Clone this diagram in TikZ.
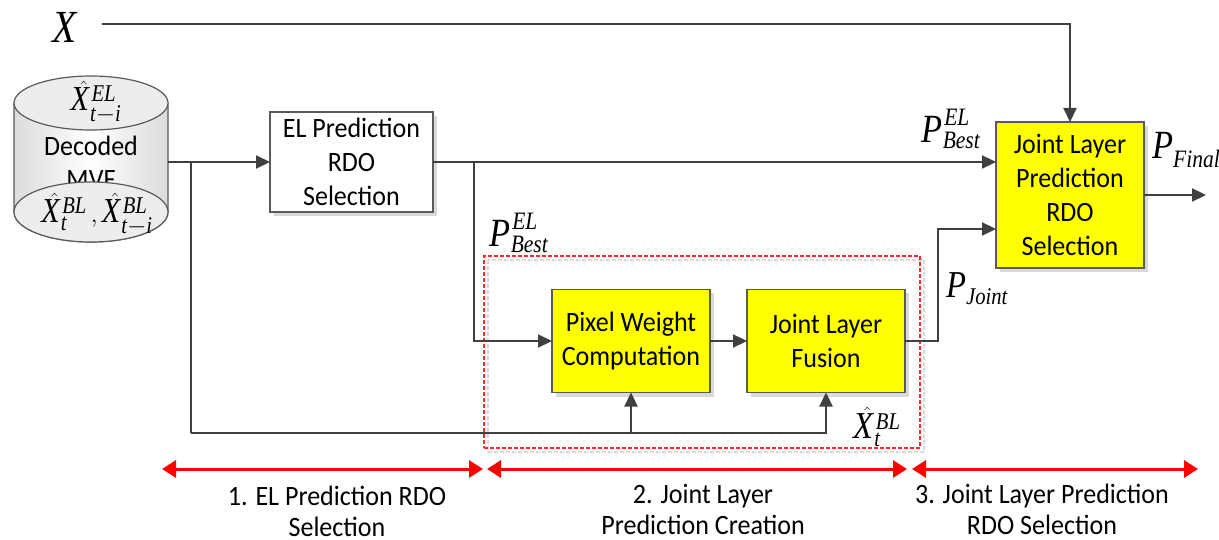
\documentclass[tikz,border=0pt]{standalone}
\usepackage{amsmath}
\usepackage{fontspec}
\setmainfont{Carlito}[FakeStretch=0.93]
\newfontfamily\tms{Liberation Serif}[FakeStretch=0.86]
\usetikzlibrary{arrows.meta,shadows}
\DeclareMathSizes{46}{46}{28}{20}
\DeclareMathSizes{40}{40}{25}{18}
\DeclareMathSizes{38}{38}{24}{17}
\DeclareMathSizes{35}{35}{24}{17}
\newcommand\mi[1]{\text{\tms\itshape #1}}
\newcommand\hx{\skew{5}{\hat}{\mi{X\/}}}
\newcommand\supr[1]{^{\kern1.5pt\mi{#1}}}
\definecolor{linec}{HTML}{404040}
\definecolor{boxc}{HTML}{5A5A5A}
\definecolor{yel}{HTML}{FFFF00}
\begin{document}
\begin{tikzpicture}[x=1pt,y=-1pt,
  conn/.style={draw=linec,line width=2.2pt},
  arr/.style={conn,-{Triangle[length=14pt,width=13pt]}},
  redarr/.style={draw=red,line width=3pt,{Triangle[length=14pt,width=17pt]}-{Triangle[length=14pt,width=17pt]}},
  box/.style={draw=boxc,line width=1.2pt,inner sep=0pt,outer sep=0pt,align=center,
    font=\fontsize{28}{34}\selectfont,
    drop shadow={shadow xshift=4pt,shadow yshift=-4pt,fill=black!15,opacity=1}},
  ybox/.style={box,fill=yel},
  wbox/.style={box,fill=white},
  lbl/.style={inner sep=0pt,font=\fontsize{28}{33}\selectfont,align=center},
  slbl/.style={inner sep=0pt,font=\fontsize{28}{31}\selectfont,align=center},
  mlbl/.style={inner sep=0pt}
]
\useasboundingbox (0,0) rectangle (1219,540);

% group frame
\draw[black!15,line width=1.2pt,dash pattern=on 4pt off 2pt] (488,260) rectangle (924,452);
\node (grp) [draw=red!85,line width=1.2pt,dash pattern=on 4pt off 2pt,minimum width=436pt,minimum height=192pt,inner sep=0pt] at (702,352) {};

% cylinder
\shade[left color=black!14,right color=black!14,middle color=white]
  (14,103) -- (14,212) arc[start angle=180,end angle=360,x radius=77pt,y radius=30pt] -- (168,103) -- cycle;
\draw[boxc,line width=1.2pt] (14,103) -- (14,212) arc[start angle=180,end angle=360,x radius=77pt,y radius=30pt] -- (168,103);
\draw[boxc,line width=1.2pt,fill=black!7] (91,103) ellipse[x radius=77pt,y radius=27pt];
\node (dec) [lbl] at (91,162) {Decoded\\MVF};
\draw[boxc,line width=1.2pt,fill=black!7] (91,212) ellipse[x radius=77pt,y radius=30pt];
\node (xel) [mlbl] at (96,102) {\fontsize{35}{36}\selectfont$\hx\supr{EL}_{\mi{t}-\mi{i}}$};
\node (xbl) [mlbl] at (97,214) {\fontsize{35}{36}\selectfont$\hx\supr{BL}_{\mi{t}}\,,\hx\supr{BL}_{\mi{t}-\mi{i}}$};
\coordinate (cylout) at (168,162);

% boxes
\node (el) [wbox,minimum width=163pt,minimum height=100pt] at (351.5,162) {EL Prediction\\RDO\\Selection};
\node (pix) [ybox,minimum width=158pt,minimum height=103pt] at (631,341) {Pixel Weight\\Computation};
\node (fus) [ybox,minimum width=158pt,minimum height=103pt] at (826,341) {Joint Layer\\Fusion};
\node (jl) [ybox,minimum width=148pt,minimum height=146pt] at (1070,195) {Joint Layer\\Prediction\\RDO\\Selection};

% labels
\node (X) [mlbl] at (65,27) {\fontsize{46}{48}\selectfont$\mi{X\/}$};
\node (pb1) [mlbl] at (951,129) {\fontsize{40}{42}\selectfont$\mi{P\/}\supr{EL}_{\mi{Best}}$};
\node (pb2) [mlbl] at (519,233) {\fontsize{40}{42}\selectfont$\mi{P\/}\supr{EL}_{\mi{Best}}$};
\node (pf) [mlbl,anchor=west] at (1152,150) {\fontsize{40}{42}\selectfont$\mi{P\/}_{\mi{Final}}$};
\node (pj) [mlbl] at (977,289) {\fontsize{38}{40}\selectfont$\mi{P\/}_{\mi{Joint}}$};
\node (xt) [mlbl] at (877,427) {\fontsize{38}{40}\selectfont$\hx\supr{BL}_{\mi{t}}$};

% connectors
\coordinate (b1) at (191,162);
\coordinate (bot) at (191,433);
\coordinate (b2) at (474,162);
\coordinate (j2) at (938,229);
\draw[arr] (cylout) -- (el.west);
\draw[conn] (b1) -- (bot);
\draw[arr] (bot) -| (fus.south);
\draw[arr] (pix.south |- bot) -- (pix.south);
\draw[arr] (el.east) -- (el.east -| jl.west);
\draw[arr] (b2) |- (pix.west);
\draw[arr] (pix.east) -- (fus.west);
\draw[arr] (fus.east) -| (j2) -- (j2 -| jl.west);
\draw[arr] ([xshift=24pt]X.east |- 0,24) -| (jl.north);
\draw[arr] (jl.east) -- ++(62,0);

% stage arrows
\coordinate (r0) at (162,469);
\coordinate (r1) at (483,469);
\coordinate (r2) at (487,469);
\coordinate (r3) at (907,469);
\coordinate (r4) at (912,469);
\coordinate (r5) at (1198,469);
\draw[redarr] (r0) -- (r1);
\draw[redarr] (r2) -- (r3);
\draw[redarr] (r4) -- (r5);

\node (s1) [slbl] at (337,511) {1. EL Prediction RDO\\Selection};
\node (s2) [slbl] at (703,509) {2. Joint Layer\\Prediction Creation};
\node (s3) [slbl] at (1042,509) {3. Joint Layer Prediction\\RDO Selection};
\end{tikzpicture}
\end{document}
